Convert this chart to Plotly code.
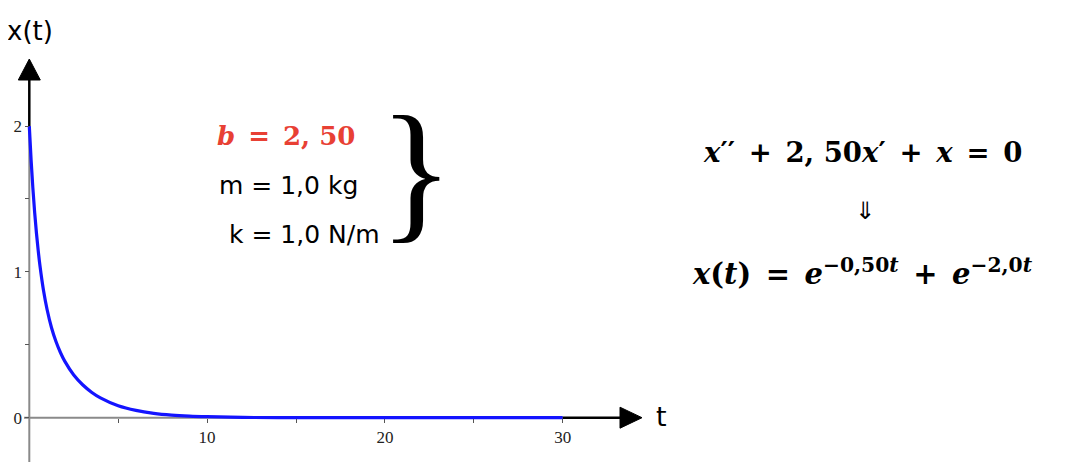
import plotly.graph_objects as go

# Curve values (over-damped case)
t_vals = [0, 0.1, 0.2, 0.3, 0.4, 0.5, 0.6, 0.8, 1.0, 1.25, 1.5, 1.75, 2, 2.5, 3, 3.5,
          4, 5, 6, 7, 8, 9, 10, 12, 14, 17, 20, 25, 30]
x_vals = [2.000, 1.770, 1.575, 1.410, 1.268, 1.147, 1.042, 0.872, 0.742, 0.617, 0.522,
          0.447, 0.386, 0.293, 0.226, 0.175, 0.136, 0.082, 0.050, 0.030, 0.018, 0.011,
          0.007, 0.002, 0.001, 0.000, 0.000, 0.000, 0.000]

x_major = [10, 20, 30]
x_major_text = ["10", "20", "30"]
x_minor = [5, 15, 25]
y_major = [0, 1, 2]
y_major_text = ["0", "1", "2"]
y_minor = [0.5, 1.5]

# page body has an 8px margin: draw in window pixels and shift by OFF
OFF = 8
W, H = 1074 - OFF, 462 - OFF
X0PX, XSC = 29.3, 17.78     # window pixel of t=0, px per unit
Y0PX, YSC = 417.7, 145.85   # window pixel of x=0, px per unit

xr = [-(X0PX - OFF) / XSC, (W - (X0PX - OFF)) / XSC]
yr = [-(H - (Y0PX - OFF)) / YSC, (Y0PX - OFF) / YSC]

def dx(px):
    return (px - X0PX) / XSC

def dy(py):
    return (Y0PX - py) / YSC

fig = go.Figure()
fig.add_trace(go.Scatter(x=t_vals, y=x_vals, mode="lines",
                         line=dict(color="rgb(20,20,255)", width=3.2, shape="spline"),
                         hoverinfo="skip", showlegend=False))

shapes = [
    dict(type="line", xref="x", yref="y", x0=0, x1=0, y0=yr[0], y1=2,
         line=dict(color="#8a8a8a", width=2), layer="below"),
    dict(type="line", xref="x", yref="y", x0=0, x1=0, y0=2, y1=dy(78),
         line=dict(color="black", width=2.5)),
    dict(type="path", xref="x", yref="y",
         path=f"M {dx(X0PX-11)} {dy(80)} L {dx(X0PX+11)} {dy(80)} L {dx(X0PX)} {dy(59)} Z",
         fillcolor="black", line=dict(color="black", width=1)),
    dict(type="line", xref="x", yref="y", x0=dx(24), x1=30, y0=0, y1=0,
         line=dict(color="#8a8a8a", width=2), layer="below"),
    dict(type="line", xref="x", yref="y", x0=30, x1=dx(622), y0=0, y1=0,
         line=dict(color="black", width=2.5)),
    dict(type="path", xref="x", yref="y",
         path=f"M {dx(620)} {dy(Y0PX-10.5)} L {dx(620)} {dy(Y0PX+10.5)} L {dx(642)} {dy(Y0PX)} Z",
         fillcolor="black", line=dict(color="black", width=1)),
]

def P(px, py):
    return (px - OFF) / W, 1 - (py - OFF) / H

ann = []
def add(text, px, py, size, family, color="black"):
    x, y = P(px, py)
    ann.append(dict(text=text, x=x, y=y, xref="paper", yref="paper", showarrow=False,
                    xanchor="center", yanchor="middle",
                    font=dict(size=size, family=family, color=color)))

sans = "DejaVu Sans"
serif = "Liberation Serif"
math = "DejaVu Serif"
NB = "\u00a0"
SP = "\u2002"   # en space for wider math spacing
add("x(t)", 30, 31, 26, sans)
add("t", 661, 416, 27, sans)
add(f"<b><i>b</i>{SP}={SP}2,{NB}50</b>", 286, 136, 26, math, color="rgb(232,64,52)")
add("m = 1,0 kg", 288, 186, 25, sans)
add("k = 1,0 N/m", 304, 234, 25, sans)
add("}", 416, 170, 155, serif)
add(f"<b><i>x</i>′′{SP}+{SP}2,{NB}50<i>x</i>′{SP}+{SP}<i>x</i>{SP}={SP}0</b>", 862, 152, 27.5, math)
add("⇓", 865, 211, 24, "DejaVu Sans")
add(f"<b><i>x</i>(<i>t</i>){SP}={SP}<i>e</i><sup>−0,50<i>t</i></sup>{SP}+{SP}<i>e</i><sup>−2,0<i>t</i></sup></b>",
    862, 272, 29, math)

tickfont = dict(family=serif, size=17, color="#222")
fig.update_layout(
    width=W, height=H, autosize=False,
    margin=dict(l=0, r=0, t=0, b=0),
    paper_bgcolor="white", plot_bgcolor="white",
    shapes=shapes, annotations=ann, showlegend=False,
    xaxis=dict(range=xr, showgrid=False, zeroline=False, showline=False,
               anchor="free", position=(H - (Y0PX - OFF)) / H,
               tickmode="array", tickvals=x_major, ticktext=x_major_text,
               ticks="outside", ticklen=4, tickcolor="#555", tickwidth=1,
               minor=dict(tickmode="array", tickvals=x_minor, ticks="outside",
                          ticklen=4, tickcolor="#555", tickwidth=1),
               tickfont=tickfont),
    yaxis=dict(range=yr, showgrid=False, zeroline=False, showline=False,
               anchor="free", position=(X0PX - OFF) / W,
               tickmode="array", tickvals=y_major, ticktext=y_major_text,
               ticks="outside", ticklen=4, tickcolor="#555", tickwidth=1,
               minor=dict(tickmode="array", tickvals=y_minor, ticks="outside",
                          ticklen=4, tickcolor="#555", tickwidth=1),
               tickfont=tickfont),
)

fig.write_html("out.html", config={"displayModeBar": False})
